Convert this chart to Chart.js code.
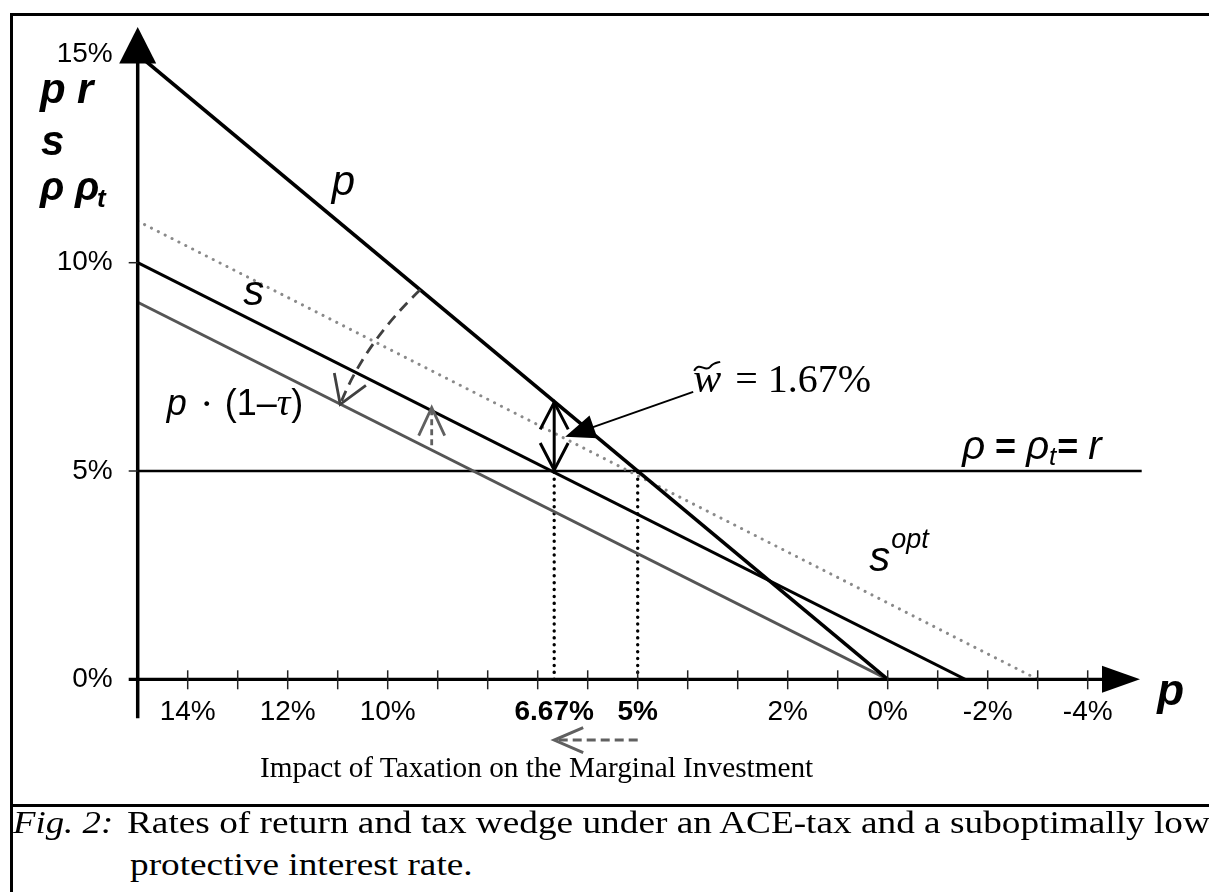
<!DOCTYPE html>
<html><head><meta charset="utf-8">
<script src="https://cdn.jsdelivr.net/npm/chart.js@4.4.1/dist/chart.umd.min.js"></script>
<style>
html,body{margin:0;padding:0;background:#fff;width:1209px;height:892px;overflow:hidden;}
canvas{position:absolute;left:0;top:0;}
.ln{position:absolute;background:#000;}
.txt{position:absolute;white-space:nowrap;font-family:'Liberation Serif','Times New Roman',serif;color:#000;transform-origin:0 0;}
</style></head>
<body>
<canvas id="c" width="1209" height="806"></canvas>
<div class="ln" style="left:10px;top:13px;width:1220px;height:3px"></div>
<div class="ln" style="left:10px;top:13px;width:3px;height:900px"></div>
<div class="ln" style="left:10px;top:804px;width:1220px;height:3px"></div>
<div class="txt" style="left:260px;top:753px;font-size:29px;line-height:29px;transform:scaleX(1.01)">Impact of Taxation on the Marginal Investment</div>
<div class="txt" style="left:13px;top:806px;font-size:32px;line-height:32px;transform:scaleX(1.15)"><i>Fig. 2:</i></div>
<div class="txt" style="left:127px;top:806px;font-size:32px;line-height:32px;transform:scaleX(1.165)">Rates of return and tax wedge under an ACE-tax and a suboptimally low</div>
<div class="txt" style="left:130px;top:848px;font-size:32px;line-height:32px;transform:scaleX(1.165)">protective interest rate.</div>
<script>
// ---- data (percent) ----
const pX = [15, 0],        pY = [15, 0];          // pre-tax return p
const sX = [15, -1.55],    sY = [10, 0];          // s
const netX = [15, 0],      netY = [9.05, 0];      // p·(1−τ)
const sOptX = [15, -3],    sOptY = [11, 0];       // s^opt
const rX = [15, -5.08],    rY = [5, 5];           // ρ = ρt = r
const wedgeX = [6.67, 6.67], wedgeY = [0, 5];     // dotted at 6.67%
const optX = [5, 5],       optY = [0, 5];         // dotted at 5%
const xTickValues = [14, 12, 10, 6.67, 5, 2, 0, -2, -4];
const xTickLabels = ['14%', '12%', '10%', '6.67%', '5%', '2%', '0%', '-2%', '-4%'];
const xBoldTicks = [6.67, 5];
const xMinorTicks = [14,13,12,11,10,9,8,7,6,5,4,3,2,1,0,-1,-2,-3,-4];
const yTickValues = [0, 5, 10, 15];
const yTickLabels = ['0%', '5%', '10%', '15%'];
// annotation anchors (data units)
const wedgeArrowX = 6.67, wedgeArrowY = [5, 6.67];
const curveArrow = [[9.35, 9.35], [10.47, 8.06], [10.95, 6.6]];
const upArrowX = 9.12, upArrowY = [5.62, 6.52];
const impactArrowX = [5, 6.67], impactArrowY = -1.46;
const wLabel = [3.89, 6.9], wArrowTip = [6.45, 5.82];

const SANS = "'Liberation Sans', Arial, sans-serif";
const SERIF = "'Liberation Serif', 'Times New Roman', serif";
const pts = (xs, ys) => xs.map((v, i) => ({x: v, y: ys[i]}));

function ds(label, xs, ys, color, w, dash) {
  return {label, data: pts(xs, ys), borderColor: color, borderWidth: w,
    borderDash: dash || [], borderCapStyle: dash ? 'round' : 'butt',
    pointRadius: 0, fill: false, tension: 0};
}

function filledHead(ctx, fx, fy, tx, ty, len, half, color) {
  const a = Math.atan2(ty - fy, tx - fx), c = Math.cos(a), s = Math.sin(a);
  const bx = tx - c * len, by = ty - s * len;
  ctx.beginPath(); ctx.moveTo(tx, ty);
  ctx.lineTo(bx - s * half, by + c * half); ctx.lineTo(bx + s * half, by - c * half);
  ctx.closePath(); ctx.fillStyle = color; ctx.fill();
}
function openHead(ctx, fx, fy, tx, ty, len, half, color, w) {
  const a = Math.atan2(ty - fy, tx - fx), c = Math.cos(a), s = Math.sin(a);
  const bx = tx - c * len, by = ty - s * len;
  ctx.setLineDash([]); ctx.strokeStyle = color; ctx.lineWidth = w; ctx.lineCap = 'butt';
  ctx.beginPath(); ctx.moveTo(bx - s * half, by + c * half); ctx.lineTo(tx, ty);
  ctx.lineTo(bx + s * half, by - c * half); ctx.stroke();
}

const annot = {
  id: 'annot',
  afterDraw(chart) {
    const {ctx, scales: {x, y}} = chart;
    const X = v => x.getPixelForValue(v), Y = v => y.getPixelForValue(v);
    ctx.save();
    // ---- axes ----
    ctx.strokeStyle = '#000'; ctx.lineWidth = 3.5; ctx.setLineDash([]);
    const x0 = X(15), y0 = Y(0);
    ctx.beginPath(); ctx.moveTo(x0, y0 + 39); ctx.lineTo(x0, 62); ctx.stroke();
    ctx.beginPath(); ctx.moveTo(x0, 27); ctx.lineTo(x0 + 18.5, 63.5); ctx.lineTo(x0 - 18.5, 63.5); ctx.closePath();
    ctx.fillStyle = '#000'; ctx.fill();
    ctx.lineWidth = 3.3;
    ctx.beginPath(); ctx.moveTo(x0 - 9, y0); ctx.lineTo(1104, y0); ctx.stroke();
    ctx.beginPath(); ctx.moveTo(1140, y0); ctx.lineTo(1102, y0 - 13.5); ctx.lineTo(1102, y0 + 13.5); ctx.closePath(); ctx.fill();
    // tick marks
    ctx.lineWidth = 1.5; ctx.strokeStyle = '#222';
    xMinorTicks.forEach(v => { ctx.beginPath(); ctx.moveTo(X(v), y0 - 9); ctx.lineTo(X(v), y0 + 10); ctx.stroke(); });
    [5, 10].forEach(v => { ctx.beginPath(); ctx.moveTo(x0 - 9, Y(v)); ctx.lineTo(x0, Y(v)); ctx.stroke(); });

    // ---- double arrow (tax wedge) ----
    const wx = X(wedgeArrowX), wy1 = Y(wedgeArrowY[0]), wy2 = Y(wedgeArrowY[1]);
    ctx.strokeStyle = '#000'; ctx.lineWidth = 3;
    ctx.beginPath(); ctx.moveTo(wx, wy1); ctx.lineTo(wx, wy2); ctx.stroke();
    openHead(ctx, wx, wy1, wx, wy2 + 1, 27, 14, '#000', 3);
    openHead(ctx, wx, wy2, wx, wy1 - 1, 27, 14, '#000', 3);

    // ---- curved dashed arrow ----
    const [c0, c1, c2] = curveArrow.map(p => [X(p[0]), Y(p[1])]);
    ctx.strokeStyle = '#404040'; ctx.lineWidth = 2.8; ctx.setLineDash([11, 7]);
    ctx.beginPath(); ctx.moveTo(c0[0], c0[1]); ctx.quadraticCurveTo(c1[0], c1[1], c2[0], c2[1]); ctx.stroke();
    openHead(ctx, c1[0], c1[1], c2[0], c2[1], 27, 17, '#404040', 2.8);

    // ---- small up dashed arrow ----
    const ux = X(upArrowX), uy1 = Y(upArrowY[0]), uy2 = Y(upArrowY[1]);
    ctx.strokeStyle = '#606060'; ctx.lineWidth = 2.8; ctx.setLineDash([6, 4]);
    ctx.beginPath(); ctx.moveTo(ux, uy1); ctx.lineTo(ux, uy2 + 2); ctx.stroke();
    openHead(ctx, ux, uy1, ux, uy2, 28, 13, '#606060', 2.8);

    // ---- impact arrow below axis ----
    const ia = X(impactArrowX[0]), ib = X(impactArrowX[1]), iy = Y(impactArrowY);
    ctx.strokeStyle = '#606060'; ctx.lineWidth = 3; ctx.setLineDash([9, 5]);
    ctx.beginPath(); ctx.moveTo(ia, iy); ctx.lineTo(ib + 3, iy); ctx.stroke();
    openHead(ctx, ia, iy, ib, iy, 29, 12.5, '#606060', 3);

    // ---- w~ arrow ----
    const lx = X(wLabel[0]), ly = Y(wLabel[1]), tx = X(wArrowTip[0]), ty = Y(wArrowTip[1]);
    ctx.setLineDash([]); ctx.strokeStyle = '#000'; ctx.lineWidth = 2;
    ctx.beginPath(); ctx.moveTo(lx, ly); ctx.lineTo(tx + 20, ty - 7); ctx.stroke();
    filledHead(ctx, lx, ly, tx, ty, 30, 12, '#000');

    // ---- texts ----
    ctx.fillStyle = '#000'; ctx.textBaseline = 'alphabetic'; ctx.textAlign = 'left';
    // w~ = 1.67%
    ctx.font = 'italic 42px ' + SERIF; ctx.fillText('w', lx, ly);
    const ww = ctx.measureText('w').width;
    ctx.lineWidth = 2; ctx.beginPath();
    ctx.moveTo(lx + 1, ly - 21); ctx.bezierCurveTo(lx + 6, ly - 31, lx + 12, ly - 19, lx + 17, ly - 25);
    ctx.bezierCurveTo(lx + 20, ly - 29, lx + 23, ly - 29, lx + 27, ly - 30); ctx.stroke();
    ctx.font = '40px ' + SERIF; ctx.fillText('= 1.67%', lx + ww + 14, ly);

    // p label
    ctx.font = 'italic 42px ' + SANS; ctx.fillText('p', X(11.12), Y(11.63));
    // s label
    ctx.font = 'italic 42px ' + SANS; ctx.fillText('s', X(12.89), Y(8.98));
    // p·(1−τ)
    let px = X(14.42), py = Y(6.34);
    ctx.font = 'italic 36px ' + SANS; ctx.fillText('p', px, py);
    ctx.font = 'bold 30px ' + SERIF; ctx.fillText('·', px + 35, py - 2);
    px = px + 58;
    ctx.font = '36px ' + SANS; ctx.fillText('(1\u2013', px, py); px += ctx.measureText('(1\u2013').width;
    ctx.font = 'italic 38px ' + SERIF; ctx.fillText('\u03C4', px, py); px += ctx.measureText('\u03C4').width + 1;
    ctx.font = '36px ' + SANS; ctx.fillText(')', px, py);
    // rho = rho_t = r
    px = X(-1.49); py = Y(5.29);
    ctx.font = 'italic 40px ' + SANS; ctx.fillText('\u03C1', px, py); px += ctx.measureText('\u03C1').width + 10;
    ctx.font = 'bold 36px ' + SANS; ctx.fillText('=', px, py); px += ctx.measureText('=').width + 10;
    ctx.font = 'italic 40px ' + SANS; ctx.fillText('\u03C1', px, py); px += ctx.measureText('\u03C1').width;
    ctx.font = 'italic 26px ' + SANS; ctx.fillText('t', px, py + 6); px += ctx.measureText('t').width + 1;
    ctx.font = 'bold 36px ' + SANS; ctx.fillText('=', px, py); px += ctx.measureText('=').width + 10;
    ctx.font = 'italic 40px ' + SANS; ctx.fillText('r', px, py);
    // s^opt
    px = X(0.37); py = Y(2.6);
    ctx.font = 'italic 42px ' + SANS; ctx.fillText('s', px, py); px += ctx.measureText('s').width + 1;
    ctx.font = 'italic 27px ' + SANS; ctx.fillText('opt', px, py - 23);
    // x-axis title p
    ctx.font = 'bold italic 44px ' + SANS; ctx.fillText('p', X(-5.39), Y(-0.62));
    // y-axis title
    ctx.font = 'bold italic 42px ' + SANS;
    ctx.fillText('p', 40, 103); ctx.fillText('r', 77, 103);
    ctx.fillText('s', 41, 155);
    ctx.font = 'bold italic 40px ' + SANS; ctx.fillText('\u03C1', 40, 200); ctx.fillText('\u03C1', 75, 200);
    ctx.font = 'bold italic 26px ' + SANS; ctx.fillText('t', 97, 207);
    ctx.restore();
  }
};

new Chart(document.getElementById('c'), {
  type: 'line',
  data: {
    datasets: [
      ds('p', pX, pY, '#000', 3.6),
      ds('s', sX, sY, '#000', 3),
      ds('net', netX, netY, '#555', 3),
      ds('sopt', sOptX, sOptY, '#8a8a8a', 3, [0.1, 7.6]),
      ds('r', rX, rY, '#000', 2.6),
      ds('w', wedgeX, wedgeY, '#000', 3.4, [0.1, 6.8]),
      ds('o', optX, optY, '#000', 3.4, [0.1, 6.8])
    ]
  },
  options: {
    responsive: false, animation: false, events: [],
    layout: {padding: {left: 0, top: 54.4, right: 66.3, bottom: 0}},
    plugins: {legend: {display: false}, tooltip: {enabled: false}},
    scales: {
      x: {
        type: 'linear', reverse: true, min: -5.1, max: 15,
        grid: {display: false, drawTicks: false}, border: {display: false},
        afterBuildTicks: s => { s.ticks = xTickValues.map(v => ({value: v})); },
        afterFit: s => { s.height = 806 - 679.3; },
        ticks: {
          autoSkip: false, maxRotation: 0, padding: 16, color: '#000',
          font: c => ({family: SANS, size: 28, weight: (c.tick && xBoldTicks.includes(c.tick.value)) ? 'bold' : 'normal'}),
          callback: v => { const i = xTickValues.indexOf(v); return i >= 0 ? xTickLabels[i] : ''; }
        }
      },
      y: {
        type: 'linear', min: 0, max: 15,
        grid: {display: false, drawTicks: false}, border: {display: false},
        afterBuildTicks: s => { s.ticks = yTickValues.map(v => ({value: v})); },
        afterFit: s => { s.width = 137.7; },
        ticks: {
          padding: 25, color: '#000', font: {family: SANS, size: 28},
          callback: v => { const i = yTickValues.indexOf(v); return i >= 0 ? yTickLabels[i] : ''; }
        }
      }
    }
  },
  plugins: [annot]
});
</script>
</body></html>
